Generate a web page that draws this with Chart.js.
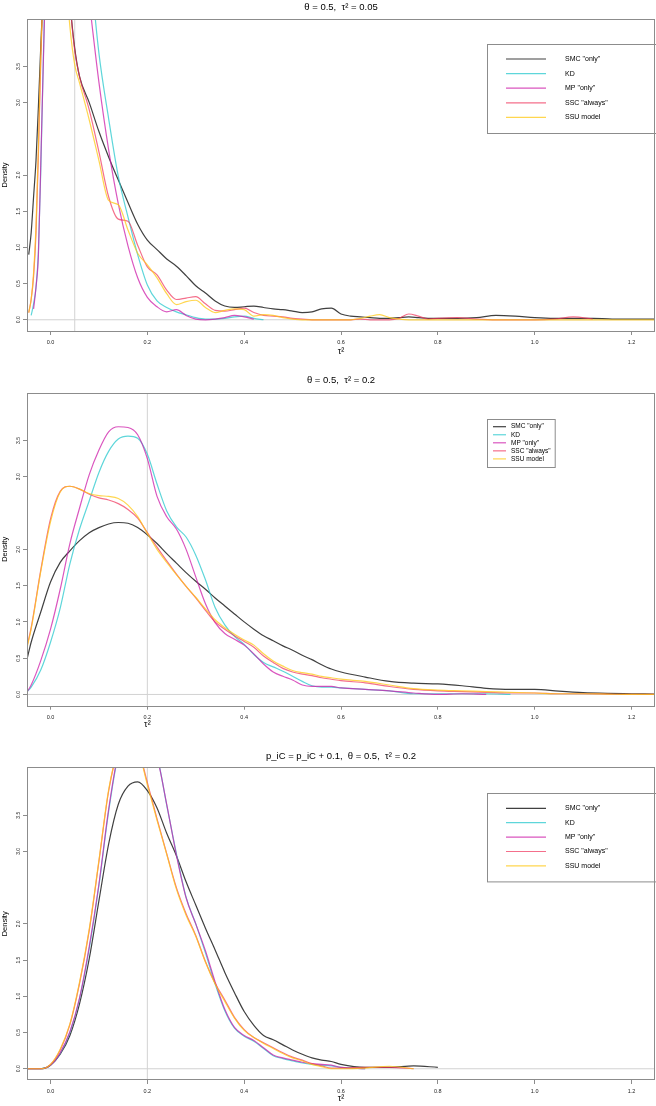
<!DOCTYPE html>
<html>
<head>
<meta charset="utf-8">
<script src="https://cdn.jsdelivr.net/npm/chart.js@4.4.0/dist/chart.umd.min.js"></script>
<style>
  body { margin: 0; background: #fff; width: 656px; height: 1106px; position: relative; overflow: hidden; }
  canvas { position: absolute; left: 0; display: block; }
</style>
</head>
<body>
<canvas id="p1" width="656" height="360" style="top:0;width:656px;height:360px"></canvas>
<canvas id="p2" width="656" height="380" style="top:360px;width:656px;height:380px"></canvas>
<canvas id="p3" width="656" height="366" style="top:740px;width:656px;height:366px"></canvas>
<script>
var FONT = "'Liberation Sans', Arial, Helvetica, sans-serif";

var seriesNames = ['SMC "only"', 'KD', 'MP "only"', 'SSC "always"', 'SSU model'];
var seriesColors = ['rgba(30,30,30,0.85)', 'rgba(40,200,205,0.75)', 'rgba(205,30,170,0.75)', 'rgba(240,50,90,0.7)', 'rgba(255,200,20,0.75)'];

var xTicks = [0, 0.2, 0.4, 0.6, 0.8, 1.0, 1.2];
var yTicks = [0, 0.5, 1, 1.5, 2, 3, 3.5];

// panel 1 : theta = 0.5, tau^2 = 0.05
var x1 = [-0.045, -0.04, -0.035, -0.03, -0.025, -0.02, -0.01, 0, 0.01, 0.02, 0.03, 0.04, 0.05, 0.06,
  0.08, 0.10, 0.12, 0.14, 0.16, 0.18, 0.20, 0.22, 0.24, 0.26, 0.28, 0.30, 0.32, 0.34, 0.36, 0.38, 0.40, 0.42, 0.44, 0.46, 0.48, 0.50,
  0.52, 0.54, 0.56, 0.58, 0.60, 0.62, 0.64, 0.66, 0.68, 0.70, 0.72, 0.74, 0.76, 0.78, 0.80,
  0.84, 0.88, 0.92, 0.96, 1.00, 1.04, 1.08, 1.12, 1.16, 1.20, 1.25];
var smc1 = [0.9, 1.2, 1.7, 2.2, 2.95, 3.8, 5.2, 6.0, 6.3, 6.0, 5.3, 4.4, 3.75, 3.36,
  3.0, 2.6, 2.25, 1.93, 1.62, 1.32, 1.10, 0.97, 0.84, 0.74, 0.61, 0.47, 0.37, 0.26, 0.19, 0.17,
  0.18, 0.19, 0.17, 0.15, 0.14, 0.12, 0.10, 0.11, 0.15, 0.16, 0.08, 0.05, 0.04, 0.03, 0.02, 0.02, 0.03, 0.04, 0.03, 0.02, 0.02,
  0.02, 0.03, 0.06, 0.05, 0.03, 0.02, 0.02, 0.02, 0.01, 0.01, 0.01];
var kd1 = [null, 0.06, 0.22, 0.45, 0.95, 2.1, 5.0, 6.9, 7.9, 8.3, 8.0, 7.4, 6.8, 6.1,
  5.0, 3.68, 2.78, 1.98, 1.42, 0.9, 0.48, 0.26, 0.17, 0.11, 0.07, 0.03, 0.01, 0.01, 0.02, 0.04,
  0.05, 0.02, 0.0, null, null, null, null, null, null, null, null, null, null, null, null, null, null, null, null, null, null,
  null, null, null, null, null, null, null, null, null, null, null];
var mp1 = [null, null, 0.15, 0.45, 0.9, 2.2, 4.8, 6.8, 7.8, 8.0, 7.6, 6.9, 6.2, 5.5,
  4.4, 3.28, 2.35, 1.6, 1.02, 0.58, 0.31, 0.18, 0.11, 0.14, 0.06, 0.01, 0.0, 0.01, 0.03, 0.06,
  0.04, 0.01, null, null, null, null, null, null, null, null, null, null, null, null, null, null, null, null, null, null, null,
  null, null, null, null, null, null, null, null, null, null, null];
var ssc1 = [0.1, 0.28, 0.6, 1.2, 2.3, 3.6, 5.3, 6.2, 6.5, 6.2, 5.4, 4.4, 3.72, 3.36,
  2.9, 2.32, 1.7, 1.39, 1.36, 1.03, 0.73, 0.62, 0.41, 0.28, 0.30, 0.32, 0.22, 0.13, 0.12, 0.14,
  0.16, 0.10, 0.06, 0.05, 0.04, 0.02, 0.01, 0.0, 0.0, 0.0, 0.0, 0.0, 0.01, 0.0, 0.0, 0.0, 0.02, 0.08, 0.05, 0.01, 0.02,
  0.03, 0.01, 0.0, 0.0, 0.0, 0.01, 0.04, 0.01, null, null, null];
var ssu1 = [0.1, 0.28, 0.65, 1.3, 2.4, 3.7, 5.2, 5.9, 6.0, 5.6, 4.9, 4.05, 3.52, 3.27,
  2.76, 2.2, 1.65, 1.59, 1.24, 0.92, 0.76, 0.58, 0.36, 0.21, 0.25, 0.27, 0.17, 0.10, 0.13, 0.15,
  0.14, 0.05, 0.07, 0.06, 0.03, 0.01, 0.0, 0.0, 0.0, 0.0, 0.0, 0.0, 0.02, 0.05, 0.07, 0.03, 0.01, 0.0, 0.0, 0.0, 0.0,
  0.0, 0.0, 0.0, 0.0, 0.0, 0.0, 0.0, 0.0, 0.0, 0.0, 0.0];

// panel 2 : theta = 0.5, tau^2 = 0.2
var x2 = [-0.048, -0.04,
  -0.02, 0, 0.02, 0.04, 0.06, 0.08, 0.10, 0.12, 0.14, 0.16, 0.18, 0.20, 0.22, 0.24, 0.26, 0.28, 0.30,
  0.32, 0.34, 0.36, 0.38, 0.40, 0.42, 0.44, 0.46, 0.48, 0.50, 0.52, 0.54, 0.56, 0.58, 0.60,
  0.65, 0.70, 0.75, 0.80, 0.85, 0.90, 0.95, 1.00, 1.05, 1.10, 1.15, 1.20, 1.25];
var smc2 = [0.50, 0.72,
  1.14, 1.55, 1.82, 1.98, 2.12, 2.23, 2.30, 2.35, 2.37, 2.36, 2.30, 2.20, 2.08, 1.94, 1.81, 1.68, 1.56,
  1.45, 1.33, 1.22, 1.11, 1.00, 0.90, 0.81, 0.74, 0.67, 0.61, 0.54, 0.48, 0.41, 0.35, 0.31,
  0.24, 0.18, 0.155, 0.145, 0.12, 0.085, 0.07, 0.07, 0.045, 0.025, 0.015, 0.01, 0.005];
var kd2 = [0.04, 0.10,
  0.34, 0.72, 1.19, 1.80, 2.28, 2.67, 3.06, 3.35, 3.52, 3.56, 3.53, 3.31, 2.90, 2.53, 2.31, 2.17, 1.92,
  1.58, 1.20, 0.96, 0.80, 0.69, 0.55, 0.44, 0.38, 0.32, 0.25, 0.18, 0.12, 0.10, 0.10, 0.09,
  0.07, 0.05, 0.01, 0.01, 0.01, 0.01, 0.0, null, null, null, null, null, null];
var mp2 = [0.04, 0.13,
  0.47, 0.90, 1.45, 2.08, 2.57, 3.03, 3.37, 3.62, 3.69, 3.68, 3.58, 3.25, 2.73, 2.45, 2.28, 2.00, 1.62,
  1.25, 0.99, 0.84, 0.76, 0.68, 0.56, 0.42, 0.31, 0.25, 0.20, 0.13, 0.11, 0.11, 0.11, 0.09,
  0.07, 0.05, 0.02, 0.0, 0.01, 0.0, null, null, null, null, null, null, null];
var ssc2 = [0.68, 0.92,
  1.72, 2.42, 2.80, 2.87, 2.83, 2.76, 2.71, 2.68, 2.63, 2.55, 2.43, 2.23, 2.03, 1.84, 1.66, 1.49, 1.33,
  1.16, 1.00, 0.90, 0.81, 0.73, 0.65, 0.53, 0.44, 0.36, 0.31, 0.28, 0.26, 0.23, 0.21, 0.19,
  0.16, 0.11, 0.07, 0.05, 0.04, 0.03, 0.02, 0.02, 0.01, 0.01, 0.005, 0.0, 0.0];
var ssu2 = [0.66, 0.90,
  1.70, 2.38, 2.79, 2.87, 2.83, 2.77, 2.74, 2.73, 2.70, 2.61, 2.45, 2.22, 2.00, 1.82, 1.65, 1.49, 1.34,
  1.18, 1.03, 0.92, 0.83, 0.75, 0.68, 0.56, 0.46, 0.39, 0.33, 0.30, 0.28, 0.25, 0.23, 0.21,
  0.18, 0.13, 0.08, 0.06, 0.05, 0.04, 0.03, 0.02, 0.01, 0.01, 0.005, 0.0, 0.0];

// panel 3 : p_iC = p_iC + 0.1, theta = 0.5, tau^2 = 0.2
var x3 = [-0.048, -0.04,
  -0.02, 0, 0.02, 0.04, 0.06, 0.08, 0.10, 0.12, 0.14, 0.16, 0.18, 0.20, 0.22, 0.24, 0.26, 0.28, 0.30,
  0.32, 0.34, 0.36, 0.38, 0.40, 0.42, 0.44, 0.46, 0.48, 0.50, 0.52, 0.54, 0.56, 0.58, 0.60,
  0.65, 0.70, 0.75, 0.80, 0.85, 0.90, 0.95, 1.00, 1.05, 1.10, 1.15, 1.20, 1.25];
var smc3 = [0, 0,
  0.0, 0.05, 0.2, 0.46, 0.9, 1.52, 2.32, 3.1, 3.65, 3.90, 3.96, 3.84, 3.60, 3.25, 2.94, 2.58, 2.26,
  1.94, 1.64, 1.33, 1.05, 0.79, 0.60, 0.46, 0.40, 0.33, 0.26, 0.20, 0.15, 0.12, 0.10, 0.06,
  0.02, 0.02, 0.04, 0.02, null, null, null, null, null, null, null, null, null];
var kd3 = [0, 0,
  0.0, 0.05, 0.21, 0.50, 0.97, 1.66, 2.53, 3.55, 4.33, 4.62, 4.70, 4.60, 4.32, 3.64, 2.97, 2.37, 2.0,
  1.60, 1.17, 0.80, 0.56, 0.45, 0.38, 0.28, 0.18, 0.14, 0.11, 0.08, 0.06, 0.05, 0.04, 0.02,
  0.0, null, null, null, null, null, null, null, null, null, null, null, null];
var mp3 = [0, 0,
  0.0, 0.05, 0.22, 0.51, 0.98, 1.69, 2.55, 3.58, 4.35, 4.62, 4.68, 4.58, 4.30, 3.65, 2.95, 2.36, 2.0,
  1.63, 1.20, 0.82, 0.57, 0.46, 0.39, 0.29, 0.19, 0.15, 0.12, 0.09, 0.07, 0.06, 0.05, 0.02,
  0.0, null, null, null, null, null, null, null, null, null, null, null, null];
var ssc3 = [0, 0,
  0.0, 0.06, 0.26, 0.61, 1.18, 1.91, 2.86, 3.83, 4.40, 4.57, 4.43, 3.95, 3.45, 2.97, 2.50, 2.14, 1.84,
  1.48, 1.18, 0.95, 0.71, 0.54, 0.43, 0.36, 0.29, 0.22, 0.16, 0.12, 0.07, 0.04, 0.01, 0.01,
  0.02, 0.02, 0.0, null, null, null, null, null, null, null, null, null, null];
var ssu3 = [0, 0,
  0.0, 0.06, 0.27, 0.62, 1.2, 1.93, 2.88, 3.85, 4.40, 4.56, 4.42, 3.92, 3.43, 2.96, 2.48, 2.12, 1.83,
  1.47, 1.17, 0.93, 0.70, 0.53, 0.43, 0.35, 0.28, 0.21, 0.15, 0.11, 0.06, 0.03, 0.0, 0.0,
  0.01, 0.035, 0.0, null, null, null, null, null, null, null, null, null, null];

// box round the plot, tau^2 axis label and the legend, drawn the way R places them
var framePlugin = {
  id: 'rframe',
  afterDatasetsDraw: function(chart, args, opts) {
    var a = chart.chartArea, ctx = chart.ctx;
    ctx.save();
    ctx.strokeStyle = '#8c8c8c';
    ctx.lineWidth = 1;
    ctx.strokeRect(Math.floor(a.left) + 0.5, Math.floor(a.top) + 0.5, Math.round(a.right - a.left) - 1, Math.round(a.bottom - a.top));

    if (opts.xlab) {
      ctx.fillStyle = '#000';
      ctx.font = '9px ' + FONT;
      ctx.textAlign = 'center';
      ctx.textBaseline = 'middle';
      ctx.fillText('τ²', chart.scales.x.getPixelForValue(opts.xlab.at), a.bottom + opts.xlab.dy);
    }

    var L = opts.legend;
    if (L) {
      ctx.strokeStyle = '#8c8c8c';
      ctx.strokeRect(Math.floor(L.x) + 0.5, Math.floor(L.y) + 0.5, L.w, L.h);
      ctx.font = L.font + 'px ' + FONT;
      ctx.textBaseline = 'middle';
      ctx.textAlign = 'left';
      var row = 0;
      chart.data.datasets.forEach(function(ds) {
        if (!ds.label) return;
        var y = L.row0 + row * L.step;
        ctx.strokeStyle = ds.borderColor;
        ctx.lineWidth = 1.2;
        ctx.beginPath();
        ctx.moveTo(L.line0, y);
        ctx.lineTo(L.line1, y);
        ctx.stroke();
        ctx.fillStyle = '#000';
        ctx.fillText(ds.label, L.text, y);
        row++;
      });
    }
    ctx.restore();
  }
};

function makePanel(id, cfg) {
  var datasets = [
    { data: [{x: -0.1, y: 0}, {x: 1.3, y: 0}], borderColor: '#d2d2d2', borderWidth: 1, pointRadius: 0, order: 10 },
    { data: [{x: cfg.vline, y: -1}, {x: cfg.vline, y: 6}], borderColor: '#d2d2d2', borderWidth: 1, pointRadius: 0, order: 10 }
  ];
  cfg.series.forEach(function(vals, i) {
    datasets.push({
      label: seriesNames[i],
      data: cfg.xs.map(function(x, j) { return {x: x, y: vals[j]}; }),
      borderColor: seriesColors[i],
      borderWidth: 1.2,
      pointRadius: 0,
      cubicInterpolationMode: 'monotone',
      spanGaps: false,
      order: 5 - i
    });
  });

  new Chart(document.getElementById(id), {
    type: 'line',
    data: { datasets: datasets },
    plugins: [framePlugin],
    options: {
      responsive: false,
      animation: false,
      devicePixelRatio: 1,
      events: [],
      layout: { padding: { top: 0, left: 0, right: 1, bottom: cfg.padBottom } },
      plugins: {
        legend: { display: false },
        tooltip: { enabled: false },
        title: {
          display: true, text: cfg.title, fullSize: false, color: '#000',
          font: { family: FONT, size: 9.5, weight: 'normal' },
          padding: cfg.titlePad
        },
        rframe: { legend: cfg.legend, xlab: cfg.xlab }
      },
      scales: {
        x: {
          type: 'linear', min: -0.0486, max: 1.2486,
          afterBuildTicks: function(s) { s.ticks = xTicks.map(function(v) { return {value: v}; }); },
          afterFit: function(s) { s.height = cfg.xAxisH; },
          ticks: {
            callback: function(v) { return v.toFixed(1); },
            minRotation: 0, maxRotation: 0, autoSkip: false, padding: 4, color: '#222',
            font: { family: FONT, size: 5.5 }
          },
          grid: { drawOnChartArea: false, drawTicks: true, tickLength: 4, color: '#8c8c8c' },
          border: { display: false }
        },
        y: {
          type: 'linear', min: -0.155, max: 4.155,
          afterBuildTicks: function(s) { s.ticks = yTicks.map(function(v) { return {value: v}; }); },
          afterFit: function(s) { s.width = 27; },
          ticks: {
            callback: function(v) { return v.toFixed(1); },
            minRotation: 90, maxRotation: 90, crossAlign: 'center', padding: 1, color: '#222',
            font: { family: FONT, size: 5 }
          },
          grid: { drawOnChartArea: false, drawTicks: true, tickLength: 4, color: '#8c8c8c' },
          border: { display: false },
          title: { display: true, text: 'Density', color: '#000', font: { family: FONT, size: 7.5 }, padding: { top: 0, bottom: 0 } }
        }
      }
    }
  });
}

makePanel('p1', {
  title: 'θ = 0.5,  τ² = 0.05', titlePad: { top: 1.3, bottom: 6.3 }, padBottom: 1, xAxisH: 28,
  xs: x1, series: [smc1, kd1, mp1, ssc1, ssu1], vline: 0.05, xlab: { at: 0.6, dy: 21 },
  legend: { x: 487, y: 44, w: 170, h: 89, row0: 59, step: 14.6, line0: 506, line1: 546, text: 565, font: 7 }
});
makePanel('p2', {
  title: 'θ = 0.5,  τ² = 0.2', titlePad: { top: 15, bottom: 6.6 }, padBottom: 8.3, xAxisH: 26,
  xs: x2, series: [smc2, kd2, mp2, ssc2, ssu2], vline: 0.2, xlab: { at: 0.2, dy: 18.5 },
  legend: { x: 487, y: 59.3, w: 67.7, h: 48, row0: 66.7, step: 8.05, line0: 493, line1: 506, text: 511, font: 6.5 }
});
makePanel('p3', {
  title: 'p_iC = p_iC + 0.1,  θ = 0.5,  τ² = 0.2', titlePad: { top: 10.3, bottom: 6.0 }, padBottom: 0, xAxisH: 26,
  xs: x3, series: [smc3, kd3, mp3, ssc3, ssu3], vline: 0.2, xlab: { at: 0.6, dy: 18.5 },
  legend: { x: 487, y: 53.3, w: 170, h: 88.4, row0: 68.3, step: 14.4, line0: 506, line1: 546, text: 565, font: 7 }
});
</script>
</body>
</html>
